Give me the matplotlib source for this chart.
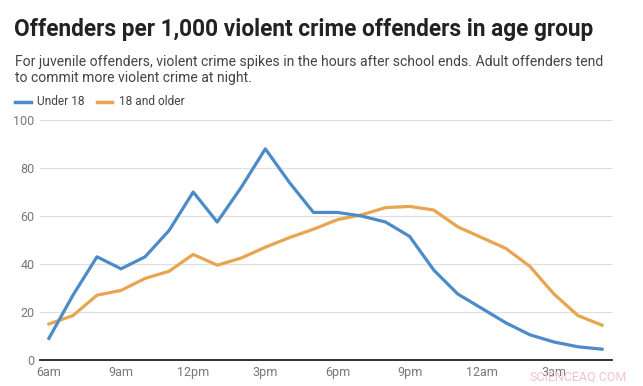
import matplotlib.pyplot as plt

plt.rcParams['font.family'] = ['Roboto', 'DejaVu Sans']

hours = ["6am", "7am", "8am", "9am", "10am", "11am", "12pm", "1pm", "2pm", "3pm",
         "4pm", "5pm", "6pm", "7pm", "8pm", "9pm", "10pm", "11pm", "12am", "1am",
         "2am", "3am", "4am", "5am"]
under_18 = [9, 27, 43, 38, 43, 54, 70, 57.5, 72, 88, 74, 61.5, 61.5, 60, 57.5, 51.5,
            37.5, 27.5, 21.5, 15.5, 10.5, 7.5, 5.5, 4.5]
adults = [15, 18.5, 27, 29, 34, 37, 44, 39.5, 42.5, 47, 51, 54.5, 58.5, 60.5, 63.5, 64,
          62.5, 55.5, 51, 46.5, 39, 27.5, 18.5, 14.5]
tick_labels = ["6am", "9am", "12pm", "3pm", "6pm", "9pm", "12am", "3am"]
yticks = [0, 20, 40, 60, 80, 100]

blue = "#4C8BC8"
orange = "#E8A550"

fig = plt.figure(figsize=(6.43, 3.86), dpi=100)
ax = fig.add_axes([0.0622, 0.0674, 0.8898, 0.6216])

x = list(range(len(hours)))
ax.plot(x, under_18, color=blue, lw=2.3, solid_joinstyle='round', zorder=3)
ax.plot(x, adults, color=orange, lw=2.3, solid_joinstyle='round', zorder=2)

ax.set_xlim(-0.37, 23.42)
ax.set_ylim(0, 100)
ax.set_yticks(yticks)
ax.set_xticks([hours.index(t) for t in tick_labels])
ax.set_xticklabels(tick_labels)
ax.grid(axis='y', color='#e0e0e0', lw=0.9)
ax.set_axisbelow(True)
for s in ['top', 'right', 'left']:
    ax.spines[s].set_visible(False)
ax.spines['bottom'].set_color('#222222')
ax.spines['bottom'].set_linewidth(1.3)
ax.spines['bottom'].set_zorder(4)
ax.tick_params(length=0, labelsize=9, colors='#777777')
ax.tick_params(axis='x', pad=4)
ax.tick_params(axis='y', pad=4)

fig.text(0.022, 0.9075, "Offenders per 1,000 violent crime offenders in age group",
         fontsize=16.3, fontweight='bold', color='#222222', va='baseline')
fig.text(0.023, 0.830, "For juvenile offenders, violent crime spikes in the hours after school ends. Adult offenders tend",
         fontsize=10.05, color='#444444', va='baseline')
fig.text(0.023, 0.788, "to commit more violent crime at night.",
         fontsize=10.05, color='#444444', va='baseline')

# legend
ly = 0.7365
fig.add_artist(plt.Line2D([0.023, 0.048], [ly, ly], color=blue, lw=2.5))
fig.text(0.058, ly, "Under 18", fontsize=8.6, color='#444444', va='center')
fig.add_artist(plt.Line2D([0.151, 0.174], [ly, ly], color=orange, lw=2.5))
fig.text(0.185, ly, "18 and older", fontsize=8.6, color='#444444', va='center')

# watermark
fig.text(0.975, 0.023, "SCIENCEAQ.COM", fontsize=9, color='#f2c4c8', ha='right', va='center')

fig.savefig("out.png", dpi=100)
